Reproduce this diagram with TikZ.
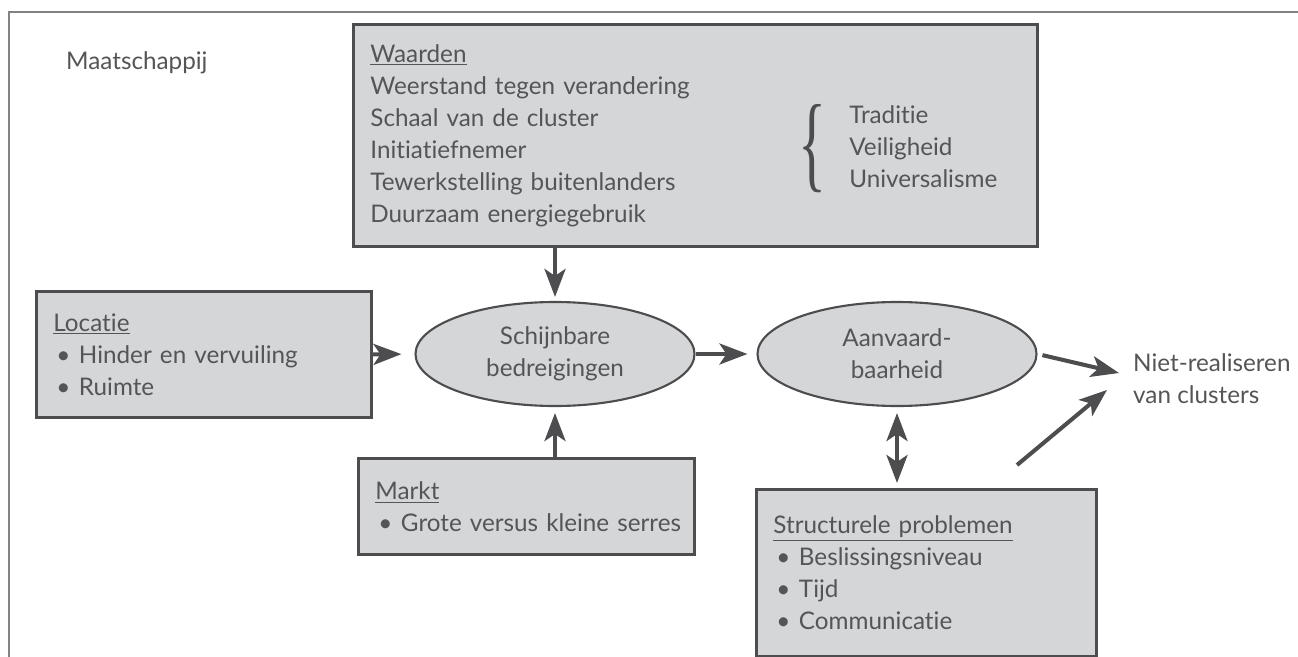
\documentclass[tikz,border=0pt]{standalone}
\usepackage{fontspec}
\usepackage{graphicx}
\setmainfont{Lato}[Ligatures=NoCommon]
\newfontfamily\accoladefont{Liberation Serif}
\usetikzlibrary{shapes.geometric,arrows.meta}

\definecolor{lijn}{HTML}{4D4D4F}
\definecolor{vul}{HTML}{D5D6D8}
\definecolor{tekst}{HTML}{555557}
\newcommand{\punt}{\hspace*{0.06cm}\textbullet\hspace{0.17cm}}

\tikzset{
  vak/.style={rectangle, draw=lijn, fill=vul, line width=1.6pt, anchor=north west, align=left, inner xsep=0.34cm, inner ysep=0pt},
  ovaal/.style={ellipse, draw=lijn, fill=vul, line width=1.2pt, minimum width=5.58cm, minimum height=2.08cm, align=center, inner sep=0pt},
  pijl/.style={->, draw=lijn, line width=2.3pt},
  >={Stealth[length=0.56cm,width=0.42cm,inset=0.14cm]},
}

\begin{document}
\begin{tikzpicture}[every node/.style={text=tekst, font=\fontsize{13.8}{18.2}\selectfont}]
	\useasboundingbox (0,0) rectangle (25.96,-13.14);
	\draw[lijn!70, line width=0.6pt] (25.96,-0.24) -- (0.18,-0.24) -- (0.18,-13.14);

	\node[anchor=west] (maatschappij) at (1.2,-1.26) {Maatschappij};

	\node[vak, text width=13cm, minimum height=4.44cm] (waarden) at (7.04,-0.46)
		{\underline{Waarden}\\Weerstand tegen verandering\\Schaal van de cluster\\Initiatiefnemer\\Tewerkstelling buitenlanders\\Duurzaam energiegebruik};
	\node[text=lijn, inner sep=0pt] (accolade) at (16.24,-2.97) {\scalebox{2.4}[4.4]{\accoladefont\{}};
	\node[anchor=west, align=left, inner sep=0pt] (waardelijst) at (16.98,-2.94) {Traditie\\Veiligheid\\Universalisme};

	\node[vak, text width=6.02cm, minimum height=2.52cm] (locatie) at (0.7,-5.8)
		{\underline{Locatie}\\\punt Hinder en vervuiling\\\punt Ruimte};
	\node[ovaal] (schijn) at (11.1,-7.08) {Schijnbare\\bedreigingen};
	\node[ovaal] (aanv) at (17.94,-7.08) {Aanvaard-\\baarheid};
	\node[vak, text width=6.04cm, minimum height=1.92cm] (markt) at (7.14,-9.14)
		{\underline{Markt}\\\mbox{\punt Grote versus kleine serres}};
	\node[vak, text width=6.12cm, minimum height=3.34cm] (struct) at (15.1,-9.76)
		{\underline{Structurele problemen}\\\punt Beslissingsniveau\\\punt Tijd\\\punt Communicatie};
	\node[anchor=west, align=left] (niet) at (22.54,-7.58) {Niet-realiseren\\van clusters};

	\coordinate (n1) at (22.38,-7.46);
	\coordinate (n2) at (22.14,-7.8);
	\coordinate (s1) at (20.34,-9.3);

	\draw[pijl, shorten >=0.08cm] (waarden.south -| schijn.north) -- (schijn.north);
	\draw[pijl, shorten >=0.12cm] (markt.north -| schijn.south) -- (schijn.south);
	\draw[pijl, shorten >=0.26cm] (locatie.east) -- (schijn.west);
	\draw[pijl, shorten >=0.18cm] (schijn.east) -- (aanv.west);
	\draw[pijl, <->, shorten <=0.12cm, shorten >=0.1cm] (aanv.south) -- (struct.north -| aanv.south);
	\draw[pijl, shorten <=0.1cm] (aanv.east) -- (n1);
	\draw[pijl] (s1) -- (n2);
\end{tikzpicture}
\end{document}
